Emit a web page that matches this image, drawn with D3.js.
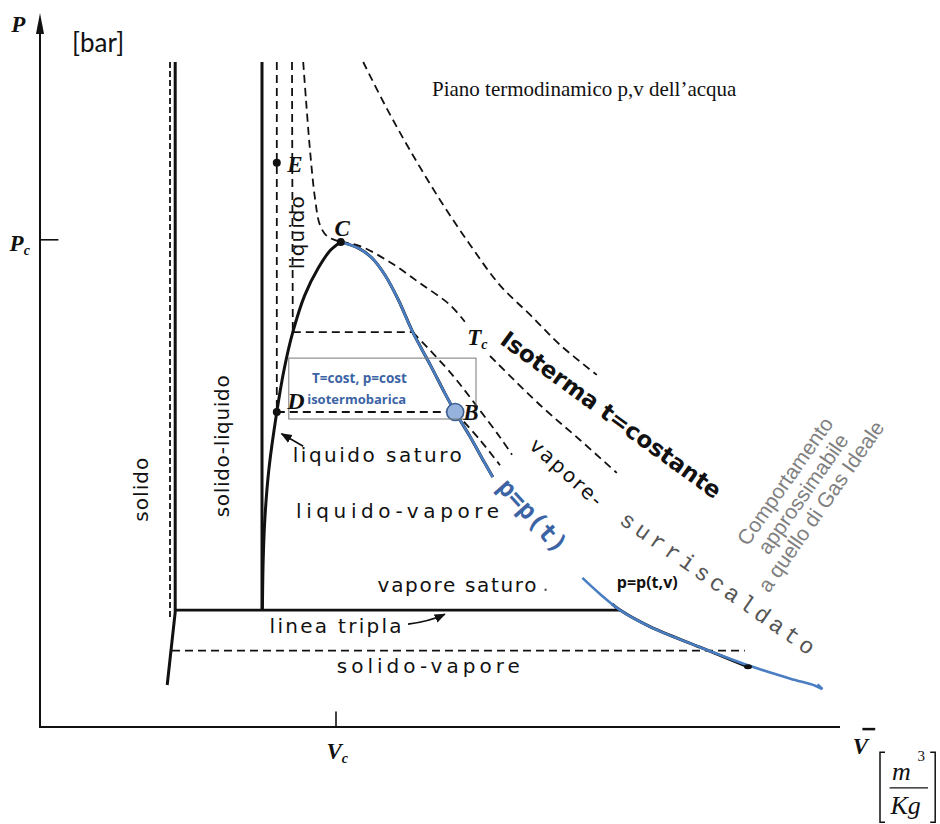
<!DOCTYPE html>
<html><head><meta charset="utf-8">
<script src="https://cdn.jsdelivr.net/npm/d3@7"></script>
<style>body{margin:0;background:#fff}</style>
</head><body>
<svg id="c" width="940" height="824"></svg>
<script>
// ---------- DATA (v, p in chart units) ----------
const satLiquid = [[27.8,16.7],[27.9,23.9],[28.1,29.6],[28.6,36.7],[29.6,45],[30.5,51],[31.6,56.4],[33.1,61.7],[34.8,65.6],[36.3,68.1],[37.6,69.3]];
const satVapourUpper = [[37.6,69.3],[39.8,68.4],[41.5,67.0],[43.1,64.6],[44.8,61.0],[46.6,56.4],[48.8,51.7],[50.6,47.7],[51.9,45.0],[53.8,41.4],[55.6,37.7],[56.6,35.7]];
const satVapourLower = [[67.8,21.3],[70,19],[72.5,16.7],[76.3,14.3],[82.5,11.4],[88.8,8.7],[93.8,6.9],[96.9,5.9],[97.8,5.4]];
const satVapourHook = [[97.8,5.4],[97.2,6.1]];
const solidVapourCurve = [[71.5,17.6],[72.5,16.7],[76.3,14.3],[82.5,11.4],[88.5,8.6]];
const solidLine = [[16.9,95],[16.9,16.4],[15.9,6.0]];
const solidDash = [[16.25,95],[16.25,15.3]];
const freezeLine = [[27.75,95],[27.75,16.7]];
const tripleLine = [[16.9,16.7],[72.5,16.7]];
const subIsotherm = [[16.5,10.9],[88.1,10.9]];
const isoE_liquid = [[29.6,95],[29.6,45]];
const isoE_flat = [[29.6,45],[51.9,45]];
const isoE_vap = [[51.9,45],[55,41],[57.5,37.4]];
const iso2_liquid = [[31.5,95],[31.6,56.4]];
const iso2_flat = [[31.6,56.4],[46.6,56.4]];
const iso2_vap = [[46.6,56.4],[51.25,50.7],[54.75,45.6],[57.5,41.4],[59,38.9]];
const isoC_left = [[32.9,95],[33.25,89.6],[33.75,82.4],[34.4,75.3],[35,71.7],[35.9,70.1],[37.6,69.3]];
const isoC_right1 = [[37.6,69.3],[40,68.7],[43.75,66.4],[47.5,63.4],[51.25,60.3],[53.1,57.9]];
const isoC_right2 = [[56.25,53],[62.5,46],[67.5,41],[72.1,36.3]];
const isoHigh = [[40.4,95],[43.1,88.9],[46.25,82.4],[50,75.3],[53.75,68.9],[57.5,63.1],[61.25,58.9],[65,54.6],[69.6,50.3]];
const points = [{n:"E",v:29.6,p:80.6},{n:"C",v:37.6,p:69.3},{n:"D",v:29.6,p:45}];
const pointB = {v:51.9,p:45};
const Pc = 69.6, Vc = 37;

// ---------- SCALES ----------
const svg = d3.select("#c");
const x = d3.scaleLinear().domain([0,100]).range([40,840]);
const y = d3.scaleLinear().domain([0,100]).range([727,27]);
const smooth = d3.line().x(d=>x(d[0])).y(d=>y(d[1])).curve(d3.curveCatmullRom.alpha(0.5));
const straight = d3.line().x(d=>x(d[0])).y(d=>y(d[1]));

svg.append("defs").append("marker").attr("id","ah").attr("viewBox","0 0 10 10")
  .attr("refX",9).attr("refY",5).attr("markerWidth",7).attr("markerHeight",7).attr("orient","auto")
  .append("path").attr("d","M0,1 L10,5 L0,9 Z").attr("fill","#111");

const g = svg.append("g");
function draw(data, gen, w, dash, col){
  g.append("path").attr("d",gen(data)).attr("fill","none").attr("stroke",col||"#111")
   .attr("stroke-width",w).attr("stroke-dasharray",dash||null).attr("stroke-linecap","butt");
}
const DASH = "8,5";
// axes
g.append("line").attr("x1",x(0)).attr("x2",x(0)).attr("y1",y(0)+1).attr("y2",y(101)).attr("stroke","#111").attr("stroke-width",2);
g.append("path").attr("d",`M${x(0)},${y(102)} L${x(0)-4},${y(99)} L${x(0)+4},${y(99)} Z`).attr("fill","#111");
g.append("line").attr("x1",x(0)).attr("x2",x(100)).attr("y1",y(0)).attr("y2",y(0)).attr("stroke","#111").attr("stroke-width",2);
g.append("line").attr("x1",x(0)).attr("x2",x(2.3)).attr("y1",y(Pc)).attr("y2",y(Pc)).attr("stroke","#111").attr("stroke-width",1.6);
g.append("line").attr("x1",x(Vc)).attr("x2",x(Vc)).attr("y1",y(0)).attr("y2",y(2.2)).attr("stroke","#111").attr("stroke-width",1.6);

// boundaries
draw(solidDash, straight, 1.8, "6,3");
draw(solidLine, straight, 3);
draw(freezeLine, straight, 3);
draw(tripleLine, straight, 2.6);
draw(subIsotherm, straight, 1.8, DASH);
draw(satLiquid, smooth, 3);
draw(satVapourUpper, smooth, 3);
draw(solidVapourCurve, smooth, 3);
// isotherms
[isoE_liquid, isoE_flat, iso2_liquid, iso2_flat].forEach(d=>draw(d, straight, 1.8, DASH));
[isoE_vap, iso2_vap, isoC_left, isoC_right1, isoC_right2, isoHigh].forEach(d=>draw(d, smooth, 1.8, DASH));
// blue overlay
const BLUE = "#4a7ec2";
draw(satVapourUpper, smooth, 2.6, null, BLUE);
draw(satVapourLower, smooth, 2.6, null, BLUE);
draw(satVapourHook, straight, 2.6, null, BLUE);

// points
points.forEach(d=>g.append("circle").attr("cx",x(d.v)).attr("cy",y(d.p)).attr("r",4).attr("fill","#111"));
g.append("ellipse").attr("cx",x(88.5)).attr("cy",y(8.6)).attr("rx",4).attr("ry",2.5).attr("fill","#111");
g.append("circle").attr("cx",x(pointB.v)).attr("cy",y(pointB.p)).attr("r",8.5).attr("fill","#95b3dc").attr("stroke","#3d5f93").attr("stroke-width",1.6);

// arrows
g.append("path").attr("d",`M${x(32.9)},${y(40.1)} L${x(30.2)},${y(41.9)}`).attr("stroke","#111").attr("stroke-width",1.6).attr("marker-end","url(#ah)");
g.append("path").attr("d",`M${x(46)},${y(14.7)} Q${x(48.5)},${y(15.0)} ${x(50.6)},${y(16.1)}`).attr("fill","none").attr("stroke","#111").attr("stroke-width",1.6).attr("marker-end","url(#ah)");

// box
g.append("rect").attr("x",x(31.1)).attr("y",y(52.7)).attr("width",x(54.5)-x(31.1)).attr("height",y(44)-y(52.7))
  .attr("fill","none").attr("stroke","#777").attr("stroke-width",1);

// ---------- TEXT ----------
const SERIF = "'Liberation Serif','DejaVu Serif',serif";
const SANS = "'DejaVu Sans',sans-serif";
function txt(v,p,s,o){
  const t = g.append("text").attr("x",x(v)).attr("y",y(p)).text(s)
    .attr("font-family",o.f||SANS).attr("font-size",o.s||20).attr("fill",o.c||"#111");
  if(o.w) t.attr("font-weight",o.w);
  if(o.i) t.attr("font-style","italic");
  if(o.a) t.attr("text-anchor",o.a);
  if(o.r!==undefined) t.attr("transform",`rotate(${o.r},${x(v)},${y(p)})`).attr("dy","0.35em");
  if(o.ls) t.attr("letter-spacing",o.ls);
  if(o.tl) t.attr("textLength",o.tl).attr("lengthAdjust","spacing");
  return t;
}
const lbl = {f:SERIF,w:"bold",i:true,s:23};
txt(-3.6,99.3,"P",lbl);
txt(-3.8,68.0,"P",lbl).append("tspan").attr("font-size",14).attr("dy",4).text("c");
txt(35.8,-4.6,"V",lbl).append("tspan").attr("font-size",14).attr("dy",4).text("c");
txt(101.6,-3.9,"V",lbl);
g.append("line").attr("x1",x(102.8)).attr("x2",x(104.4)).attr("y1",y(-0.3)).attr("y2",y(-0.3)).attr("stroke","#111").attr("stroke-width",2.5);
txt(30.9,79.3,"E",lbl);
txt(36.8,70.2,"C",lbl);
txt(30.9,45.4,"D",{f:SERIF,w:"bold",i:true,s:24});
txt(52.9,43.8,"B",lbl);
txt(53.4,54.6,"T",lbl).append("tspan").attr("font-size",14).attr("dy",4).text("c");
txt(4,96.4,"[bar]",{f:"Lato,'Open Sans',sans-serif",s:26});
txt(49,90.1,"Piano termodinamico p,v dell’acqua",{f:SERIF,s:21});

txt(12.6,33.9,"solido",{r:-90,a:"middle",tl:64});
txt(22.75,40.1,"solido-liquido",{r:-90,a:"middle",tl:142});
txt(32.1,70.6,"liquido",{r:-90,a:"middle",tl:73});
txt(31.6,37.9,"liquido saturo",{tl:169});
txt(32.0,29.9,"liquido-vapore",{tl:203});
txt(42.2,19.3,"vapore saturo",{tl:159});
g.append("circle").attr("cx",x(63.2)).attr("cy",y(19.6)).attr("r",1.2).attr("fill","#555");
txt(28.7,13.5,"linea tripla",{tl:132});
txt(37.1,7.7,"solido-vapore",{tl:183});
txt(65.8,36.4,"vapore-",{r:42,a:"middle",tl:90});

txt(34,49.2,"T=cost, p=cost",{f:"'Open Sans',sans-serif",w:"bold",s:13.5,c:"#3c64a5"});
txt(33.4,46.1,"isotermobarica",{f:"'Open Sans',sans-serif",w:"bold",s:13,c:"#3c64a5"});
txt(72.1,19.8,"p=p(t,v)",{f:"'Open Sans',sans-serif",w:"bold",s:16});
txt(61.6,30.2,"p=p(t)",{f:"'DejaVu Sans Mono',monospace",w:"bold",s:25,c:"#3c64a5",r:48,a:"middle"});
txt(71.4,44.6,"Isoterma t=costante",{f:"'DejaVu Sans',sans-serif",w:"bold",s:23,r:36,a:"middle"});
txt(84.75,20.6,"surriscaldato",{f:"'Liberation Mono','DejaVu Sans Mono',monospace",s:23,c:"#555",r:35,a:"middle",tl:232});
// gas ideale block
const gb = g.append("g").attr("transform",`translate(${x(95.4)},${y(33.3)}) rotate(-55)`);
["Comportamento","approssimabile","a quello di Gas Ideale"].forEach((s,i)=>{
  gb.append("text").attr("x",0).attr("y",(i-1)*22+7).attr("text-anchor","middle")
    .attr("font-family","'Liberation Sans',Arial,sans-serif").attr("font-size",21).attr("fill","#808080").text(s);
});

// units
const ub = g.append("g");
const bl = x(105), br = x(111.9), bt = y(-3.6), bb = y(-13.6);
ub.append("path").attr("d",`M${bl+5},${bt} H${bl} V${bb} H${bl+5} M${br-5},${bt} H${br} V${bb} H${br-5}`).attr("fill","none").attr("stroke","#111").attr("stroke-width",1.5);
ub.append("line").attr("x1",x(106.2)).attr("x2",x(111)).attr("y1",y(-8.7)).attr("y2",y(-8.7)).attr("stroke","#111").attr("stroke-width",1.3);
txt(106.5,-7.6,"m",{f:SERIF,i:true,s:26});
txt(109.7,-4.9,"3",{f:SERIF,s:15});
txt(106.3,-12.4,"Kg",{f:SERIF,i:true,s:26});
</script></body></html>
